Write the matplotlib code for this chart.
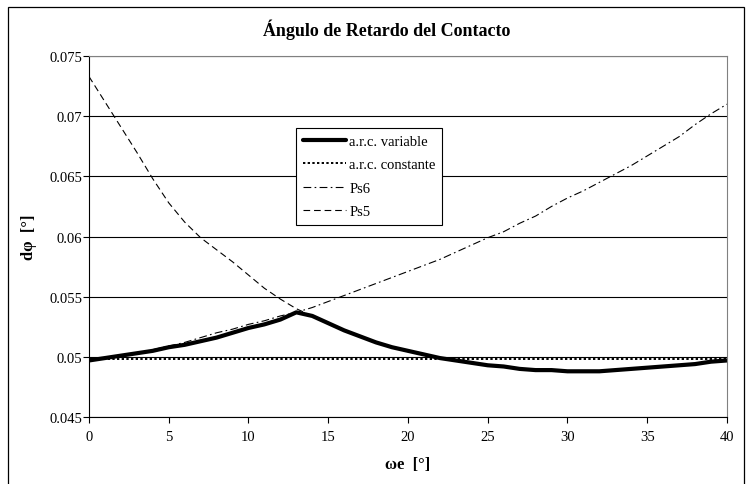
import matplotlib
matplotlib.use("Agg")
import matplotlib.pyplot as plt
from matplotlib.patches import Rectangle

plt.rcParams['font.family'] = ['Liberation Serif', 'DejaVu Serif']

# angulo de excentrica [grados]
we = list(range(0, 41))

# retardo del contacto, avance de contacto variable
arc_variable = [0.0497, 0.0499, 0.0501, 0.0503, 0.0505, 0.0508, 0.0510, 0.0513, 0.0516, 0.0520,
                0.0524, 0.0527, 0.0531, 0.0537, 0.0534, 0.0528, 0.0522, 0.0517, 0.0512, 0.0508,
                0.0505, 0.0502, 0.0499, 0.0497, 0.0495, 0.0493, 0.0492, 0.0490, 0.0489, 0.0489,
                0.0488, 0.0488, 0.0488, 0.0489, 0.0490, 0.0491, 0.0492, 0.0493, 0.0494, 0.0496,
                0.0497]
# avance de contacto constante
arc_constante = [0.0498] * len(we)
# ajustes polinomicos
ps6 = [0.0497, 0.0499, 0.0501, 0.0503, 0.0506, 0.0509, 0.0512, 0.0516, 0.0520, 0.0523,
       0.0527, 0.0530, 0.0534, 0.0537, 0.0541, 0.0546, 0.0551, 0.0556, 0.0561, 0.0566,
       0.0571, 0.0576, 0.0581, 0.0587, 0.0593, 0.0599, 0.0604, 0.0611, 0.0617, 0.0625,
       0.0632, 0.0638, 0.0645, 0.0652, 0.0659, 0.0667, 0.0675, 0.0683, 0.0693, 0.0702,
       0.0710]
ps5 = [0.0733, 0.0712, 0.0691, 0.0670, 0.0648, 0.0628, 0.0612, 0.0599, 0.0589, 0.0579,
       0.0568, 0.0557, 0.0548, 0.0540, 0.0534, 0.0528, 0.0522, 0.0517, 0.0512, 0.0508,
       0.0505, 0.0502, 0.0499, 0.0497, 0.0495, 0.0493, 0.0492, 0.0490, 0.0489, 0.0489,
       0.0488, 0.0488, 0.0488, 0.0489, 0.0490, 0.0491, 0.0492, 0.0493, 0.0494, 0.0496,
       0.0497]

yticks = [0.045, 0.05, 0.055, 0.06, 0.065, 0.07, 0.075]
ytick_labels = ['0.045', '0.05', '0.055', '0.06', '0.065', '0.07', '0.075']
xticks = [0, 5, 10, 15, 20, 25, 30, 35, 40]

fig = plt.figure(figsize=(7.47, 4.85), dpi=100)
ax = fig.add_axes([0.1191, 0.1381, 0.8541, 0.7443])

ax.plot(we, arc_variable, color='black', lw=3.0, solid_capstyle='round', label='a.r.c. variable')
ax.plot(we, arc_constante, color='black', lw=1.4, linestyle=(0, (1.2, 1.2)), label='a.r.c. constante')
ax.plot(we, ps6, color='black', lw=0.8, linestyle=(0, (7, 3, 1.5, 3)), label='Ps6')
ax.plot(we, ps5, color='black', lw=0.8, linestyle=(0, (6, 3.5)), label='Ps5')

ax.set_xlim(0, 40)
ax.set_ylim(0.045, 0.075)
ax.set_xticks(xticks)
ax.set_xticklabels([str(v) for v in xticks])
ax.set_yticks(yticks)
ax.set_yticklabels(ytick_labels)
ax.tick_params(axis='both', direction='out', length=4, width=0.8, labelsize=10.5, colors='black')
ax.tick_params(axis='x', pad=5)
ax.tick_params(axis='y', pad=1)

ax.yaxis.grid(True, color='black', lw=0.8)
ax.set_axisbelow(True)
for side in ['top', 'right']:
    ax.spines[side].set_color('#808080')
    ax.spines[side].set_linewidth(0.8)
for side in ['left', 'bottom']:
    ax.spines[side].set_color('black')
    ax.spines[side].set_linewidth(0.8)

leg = ax.legend(loc='upper left', bbox_to_anchor=(0.3245, 0.8006), borderaxespad=0,
                fontsize=10.5, frameon=True, fancybox=False, framealpha=1,
                edgecolor='black', handlelength=3.0, handletextpad=0.2,
                labelspacing=0.7, borderpad=0.45)
leg.get_frame().set_linewidth(0.8)

fig.text(0.517, 0.938, 'Ángulo de Retardo del Contacto', ha='center', va='center',
         fontsize=13, fontweight='bold')
fig.text(0.5462, 0.041, 'ωe  [°]', ha='center', va='center', fontsize=12, fontweight='bold')
fig.text(0.039, 0.5103, 'dφ  [°]', ha='center', va='center', rotation=90,
         fontsize=12, fontweight='bold')

# marco exterior del grafico
fig.patches.append(Rectangle((8 / 747, -0.05), 736 / 747, 1.05 - 8 / 485,
                             transform=fig.transFigure, fill=False,
                             edgecolor='black', lw=0.9))

fig.savefig('out.png', dpi=100)
